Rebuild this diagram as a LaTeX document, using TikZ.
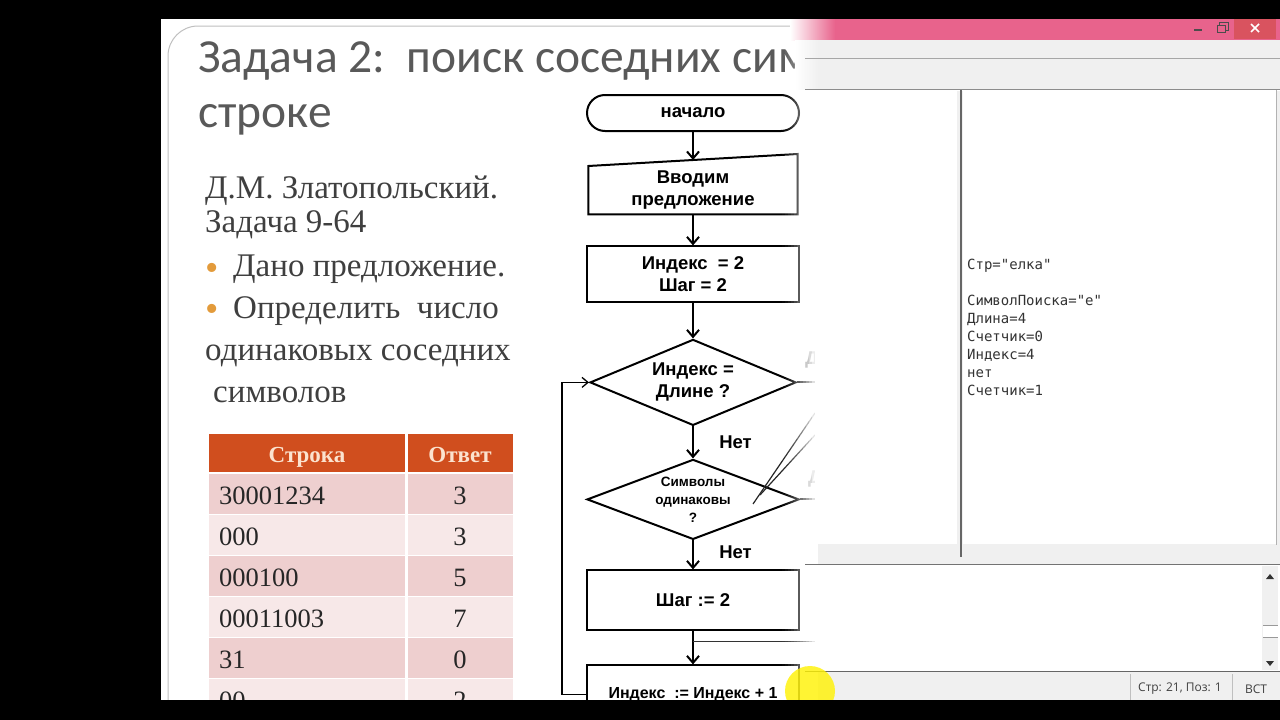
\documentclass[tikz,border=0pt]{standalone}
\usepackage{fontspec}
\setmainfont{Liberation Serif}
\newfontfamily\slidesans{Carlito}
\newfontfamily\chartfont{Liberation Sans}
\newfontfamily\codefont{DejaVu Sans Mono}
\newfontfamily\uifont{Open Sans}
\usetikzlibrary{shapes.geometric,arrows.meta,positioning,calc}
\definecolor{titlegray}{HTML}{595959}
\definecolor{bodygray}{HTML}{3F3F3F}
\definecolor{bulletorange}{HTML}{E39B3B}
\definecolor{headred}{HTML}{D04E1E}
\definecolor{headtext}{HTML}{FBE3CF}
\definecolor{rowdark}{HTML}{EECFCF}
\definecolor{rowlight}{HTML}{F7E8E8}
\definecolor{winpink}{HTML}{E8638C}
\definecolor{closered}{HTML}{D9535F}
\definecolor{uigray}{HTML}{F0F0F0}
\definecolor{framegray}{HTML}{BFBFBF}
\newcommand\chartsize{\chartfont\bfseries\fontsize{18.5}{22}\selectfont}
\newcommand\smallchart{\chartfont\bfseries\fontsize{13.5}{18}\selectfont}

\begin{document}
\begin{tikzpicture}[x=1pt,y=-1pt,
    node distance=32pt,
    termbox/.style={draw,line width=2pt,rectangle,rounded corners=18pt,minimum width=212pt,minimum height=36pt,font=\chartsize},
    procbox/.style={draw,line width=2pt,minimum width=212pt,minimum height=56pt,align=center,font=\chartsize},
    inbox/.style={minimum width=209pt,minimum height=48pt,align=center,font=\chartsize},
    decbox/.style={draw,line width=2pt,diamond,aspect=2.4,inner sep=0pt,minimum width=206pt,minimum height=86pt,align=center,font=\chartsize},
    arrow/.style={-{Straight Barb[length=7pt,width=12pt]},line width=2pt},
    slidetext/.style={anchor=base west,inner sep=0pt,text=bodygray,font=\fontsize{33}{38}\selectfont},
    bulletdot/.style={anchor=base,inner sep=0pt,text=bulletorange,font=\fontsize{38}{40}\selectfont},
    celltext/.style={anchor=base,inner sep=0pt,text=black!85,font=\fontsize{26.5}{30}\selectfont}
  ]
    \useasboundingbox (0,0) rectangle (1280,720);
    \fill[white] (0,0) rectangle (1280,720);

    % slide frame and title
    \draw[framegray,line width=1pt,rounded corners=30pt] (168,700) -- (168,26) -- (830,26);
    \node[anchor=base west,inner sep=0pt,text=titlegray,font=\slidesans\fontsize{47.5}{52}\selectfont] (title) at (198,72) {Задача 2:\ \ поиск соседних сим};
    \node[anchor=base west,inner sep=0pt,text=titlegray,font=\slidesans\fontsize{47.5}{52}\selectfont] (title2) at (198,127) {строке};

    % slide text
    \node[slidetext] (author) at (205,198) {Д.М. Златопольский.};
    \node[slidetext] (task) at (205,232) {Задача 9-64};
    \node[bulletdot] (b1) at (212,280) {•};
    \node[slidetext] (given) at (233,276) {Дано предложение.};
    \node[bulletdot] (b2) at (212,321) {•};
    \node[slidetext] (find) at (233,318) {Определить\ \ число};
    \node[slidetext] (find2) at (205,360) {одинаковых соседних};
    \node[slidetext] (find3) at (213,402) {символов};

    % table
    \fill[headred] (209,434) rectangle (405,472);
    \fill[headred] (408,434) rectangle (513,472);
    \node[anchor=base,inner sep=0pt,text=headtext,font=\bfseries\fontsize{23}{28}\selectfont] (hstr) at (307,462) {Строка};
    \node[anchor=base,inner sep=0pt,text=headtext,font=\bfseries\fontsize{23}{28}\selectfont] (hans) at (460,462) {Ответ};
    \foreach \str/\ans/\rowcol [count=\i, evaluate=\i as \rowtop using {474+41*(\i-1)}] in
      {30001234/3/rowdark,000/3/rowlight,000100/5/rowdark,00011003/7/rowlight,31/0/rowdark,00/2/rowlight} {
      \fill[\rowcol] (209,\rowtop) rectangle (405,{\rowtop+40});
      \fill[\rowcol] (408,\rowtop) rectangle (513,{\rowtop+40});
      \node[celltext,anchor=base west] (s\i) at (219,{\rowtop+30}) {\str};
      \node[celltext] (a\i) at (460,{\rowtop+30}) {\ans};
    }

    % flowchart
    \node[termbox] (start) at (693,113) {начало};
    \node[inbox,below=34pt of start] (inp) {Вводим\\предложение};
    \draw[line width=2pt] (inp.north west) -- ($(inp.north east)+(0pt,12pt)$) -- (inp.south east) -- (inp.south west) -- cycle;
    \node[procbox,below=31pt of inp] (init) {Индекс\ \ = 2\\Шаг = 2};
    \node[decbox,below=35pt of init] (cmplen) {Индекс =\\Длине ?};
    \node[decbox,below=32pt of cmplen,aspect=2.6,minimum width=212pt,minimum height=80pt,font=\smallchart] (cmpsym) {Символы\\одинаковы\\?};
    \node[procbox,below=29pt of cmpsym,minimum height=60pt] (step) {Шаг := 2};
    \node[procbox,below=33pt of step,minimum height=58pt,font=\chartfont\bfseries\fontsize{16}{20}\selectfont] (incr) {Индекс\ \ := Индекс + 1};

    \draw[arrow] (start) -- ($(inp.north)+(0pt,6pt)$);
    \draw[arrow] (inp) -- (init);
    \draw[arrow] (init) -- (cmplen);
    \draw[arrow] (cmplen) -- node[right=22pt,font=\chartsize] (no1) {Нет} (cmpsym);
    \draw[arrow] (cmpsym) -- node[right=22pt,pos=0.4,font=\chartsize] (no2) {Нет} (step);
    \draw[arrow] (step) -- (incr);
    \draw[-{Straight Barb[length=6pt,width=10pt]},line width=1.3pt] (incr.west) -- ++(-24pt,0pt) |- (cmplen.west);

    % yes branches behind the window
    \coordinate (merge) at ($(step.south)+(0pt,-10pt)$);
    \draw[line width=1.5pt,black!80] (merge) -- ++(130pt,0pt);
    \draw[line width=2pt] (cmplen.east) -- ++(40pt,0pt);
    \draw[line width=2pt] (cmpsym.east) -- ++(40pt,0pt);
    \node[font=\chartsize,text=black!60] (yes1) at (817,360) {Да};
    \node[font=\chartsize,text=black!60] (yes2) at (820,479) {Да};
    \draw[line width=1.2pt,black!85] (753,504) -- (815,413);
    \draw[line width=1.2pt,black!85] (760,495) -- (815,435);

    % window fade
    \foreach \k in {1,...,12} {
      \fill[white,opacity={(\k/12)^1.5}] ({782+3*(\k-1)},40) rectangle ({782+3*\k},700);
    }
    \fill[white] (818,40) rectangle (1280,700);
    \shade[left color=white,right color=winpink] (790,19) rectangle (835,40);
    \fill[winpink] (835,19) rectangle (1280,40);
    \fill[closered] (1234,19) rectangle (1276,39);
    \draw[black!70,line width=1.6pt] (1194,30) -- (1202,30);
    \draw[black!70,line width=1pt] (1217,25) rectangle (1225,32);
    \draw[black!70,line width=1pt] (1219,25) -- (1219,22.5) -- (1228,22.5) -- (1228,30) -- (1225,30);
    \draw[white,line width=1.5pt] (1251,24) -- (1259,32) (1251,32) -- (1259,24);

    % menu and toolbar
    \fill[uigray] (818,40) rectangle (1280,89);
    \shade[left color=white,right color=uigray] (795,40) rectangle (818,89);
    \draw[black!35,line width=0.8pt] (805,58) -- (1280,58);
    \draw[black!45,line width=1pt] (805,89.5) -- (1280,89.5);

    % panes
    \fill[uigray] (818,91) rectangle (1280,565);
    \fill[white] (818,91) rectangle (957,544);
    \fill[white] (963,91) rectangle (1276,544);
    \draw[black!60,line width=1.2pt] (961,90) -- (961,557);
    \draw[black!30,line width=0.8pt] (1276.5,90) -- (1276.5,545);
    \node[anchor=north west,inner sep=0pt,align=left,font=\codefont\fontsize{14}{18}\selectfont,text=black!80] (output) at (967,259)
      {Стр="елка"\\[18pt]СимволПоиска="е"\\Длина=4\\Счетчик=0\\Индекс=4\\нет\\Счетчик=1};

    % lower pane
    \draw[black!55,line width=1.2pt] (805,564.5) -- (1280,564.5);
    \fill[white] (818,566) rectangle (1262,670);
    \fill[uigray] (1262,566) rectangle (1278,670);
    \fill[black!80] (1266,579) -- (1274,579) -- (1270,574) -- cycle;
    \fill[black!80] (1266,661) -- (1274,661) -- (1270,666) -- cycle;
    \fill[white] (1263,625) rectangle (1278,637);
    \draw[black!40,line width=0.6pt] (1263,625) -- (1278,625) (1263,637) -- (1278,637);
    \draw[black!60,line width=1pt] (805,671) -- (1280,671);

    % status bar
    \fill[uigray] (818,672) rectangle (1280,700);
    \draw[black!25,line width=0.8pt] (1130,674) -- (1130,700) (1232,674) -- (1232,700);
    \node[font=\uifont\fontsize{12}{14}\selectfont,text=black!75] (pos) at (1180,689) {Стр: 21, Поз: 1};
    \node[font=\uifont\fontsize{12}{14}\selectfont,text=black!75] (mode) at (1256,689) {ВСТ};

    % pointer highlight
    \fill[yellow,opacity=0.8] (810,691) circle (25pt);

    % black borders of the video frame
    \fill[black] (0,0) rectangle (1280,19);
    \fill[black] (0,0) rectangle (161,720);
    \fill[black] (0,700) rectangle (1280,720);
  \end{tikzpicture}
\end{document}
